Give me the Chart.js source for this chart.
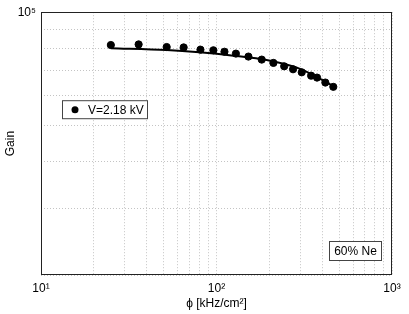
<!DOCTYPE html>
<html>
<head>
<meta charset="utf-8">
<script src="https://cdn.jsdelivr.net/npm/chart.js@4/dist/chart.umd.min.js"></script>
<style>
html,body{margin:0;padding:0;background:#fff;}
#wrap{width:409px;height:314px;}
</style>
</head>
<body>
<div id="wrap"><canvas id="c" width="409" height="314"></canvas></div>
<script>
// Measured points
const fluxPoints = [25, 36, 52, 65, 81, 96, 111, 129, 152, 181, 211, 243, 273, 306, 346, 374, 417, 463];
const gainPoints = [81800, 82100, 80800, 80600, 79500, 79200, 78500, 77600, 76200, 74800, 73300, 71800, 70500, 69200, 67800, 67000, 65000, 63300];
// Fit line
const fluxLine = [25, 52, 80, 125, 193, 299, 470];
const gainLine = [80200, 79300, 78200, 76600, 74600, 70700, 63400];
// Axes
const xMin = 10, xMax = 1000;
const yMin = 20000, yMax = 100000;
const xGrid = [10, 20, 30, 40, 50, 60, 70, 80, 90, 100, 200, 300, 400, 500, 600, 700, 800, 900, 1000];
const yGrid = [20000, 30000, 40000, 50000, 60000, 70000, 80000, 90000, 100000];
const xLabels = {10: '10\u00B9', 100: '10\u00B2', 1000: '10\u00B3'};
const yLabels = {100000: '10\u2075'};
const legendText = 'V=2.18 kV';
const noteText = '60% Ne';
const xTitle = '\u03D5 [kHz/cm\u00B2]';
const yTitle = 'Gain';

const FONT = 'Liberation Sans, Arial, Helvetica, sans-serif';

const framePlugin = {
  id: 'frame',
  afterDraw(chart) {
    const ctx = chart.ctx, a = chart.chartArea;
    ctx.save();
    ctx.strokeStyle = '#222';
    ctx.lineWidth = 1;
    ctx.strokeRect(Math.round(a.left) + 0.5, Math.round(a.top) + 0.5,
                   Math.round(a.right - a.left) - 1, Math.round(a.bottom - a.top) - 1);
    // legend box
    const lx = a.left + 21, ly = a.top + 88, lw = 85, lh = 18;
    ctx.fillStyle = '#fff';
    ctx.fillRect(lx, ly, lw, lh);
    ctx.strokeStyle = '#444';
    ctx.strokeRect(lx + 0.5, ly + 0.5, lw, lh);
    ctx.fillStyle = '#000';
    ctx.beginPath();
    ctx.arc(lx + 13, ly + 9.5, 3.5, 0, Math.PI * 2);
    ctx.fill();
    ctx.font = '12px ' + FONT;
    ctx.textBaseline = 'middle';
    ctx.textAlign = 'left';
    ctx.fillText(legendText, lx + 26, ly + 10);
    // note box
    const nx = a.right - 63, ny = a.bottom - 34, nw = 52, nh = 19;
    ctx.fillStyle = '#fff';
    ctx.fillRect(nx, ny, nw, nh);
    ctx.strokeStyle = '#444';
    ctx.strokeRect(nx + 0.5, ny + 0.5, nw, nh);
    ctx.fillStyle = '#000';
    ctx.textAlign = 'center';
    ctx.fillText(noteText, nx + nw / 2 + 0.5, ny + nh / 2 + 1);
    ctx.restore();
  }
};

new Chart(document.getElementById('c'), {
  type: 'scatter',
  data: {
    datasets: [
      {
        label: legendText,
        data: fluxPoints.map((x, i) => ({x: x, y: gainPoints[i]})),
        backgroundColor: '#000',
        borderColor: '#000',
        pointRadius: 3.6,
        pointHoverRadius: 3.6,
        showLine: false
      },
      {
        label: 'fit',
        data: fluxLine.map((x, i) => ({x: x, y: gainLine[i]})),
        borderColor: '#000',
        borderWidth: 2,
        pointRadius: 0,
        showLine: true,
        cubicInterpolationMode: 'monotone'
      }
    ]
  },
  options: {
    responsive: false,
    animation: false,
    devicePixelRatio: 1,
    layout: {padding: {top: 11, right: 17, left: 0, bottom: 0}},
    plugins: {legend: {display: false}, tooltip: {enabled: false}},
    scales: {
      x: {
        type: 'logarithmic',
        min: xMin, max: xMax,
        afterBuildTicks(s) { s.ticks = xGrid.map(v => ({value: v, major: false})); },
        afterFit(s) { s.height = 39; },
        grid: {color: '#c4c4c4', drawTicks: false, lineWidth: 1},
        border: {display: false, dash: [1, 2]},
        ticks: {
          autoSkip: false, maxRotation: 0, padding: 6,
          color: '#000', font: {family: FONT, size: 12},
          callback: (v) => xLabels[v] || ''
        },
        title: {display: true, text: xTitle, color: '#000', font: {family: FONT, size: 12}, padding: {top: 0, bottom: 3}}
      },
      y: {
        type: 'logarithmic',
        min: yMin, max: yMax,
        afterBuildTicks(s) { s.ticks = yGrid.map(v => ({value: v, major: false})); },
        afterFit(s) { s.width = 41; },
        grid: {color: '#c4c4c4', drawTicks: false, lineWidth: 1},
        border: {display: false, dash: [1, 2]},
        ticks: {
          autoSkip: false, padding: 5,
          color: '#000', font: {family: FONT, size: 12},
          callback: (v) => yLabels[v] || ''
        },
        title: {display: true, text: yTitle, color: '#000', font: {family: FONT, size: 12}, padding: {top: 3, bottom: 0}}
      }
    }
  },
  plugins: [framePlugin]
});
</script>
</body>
</html>
